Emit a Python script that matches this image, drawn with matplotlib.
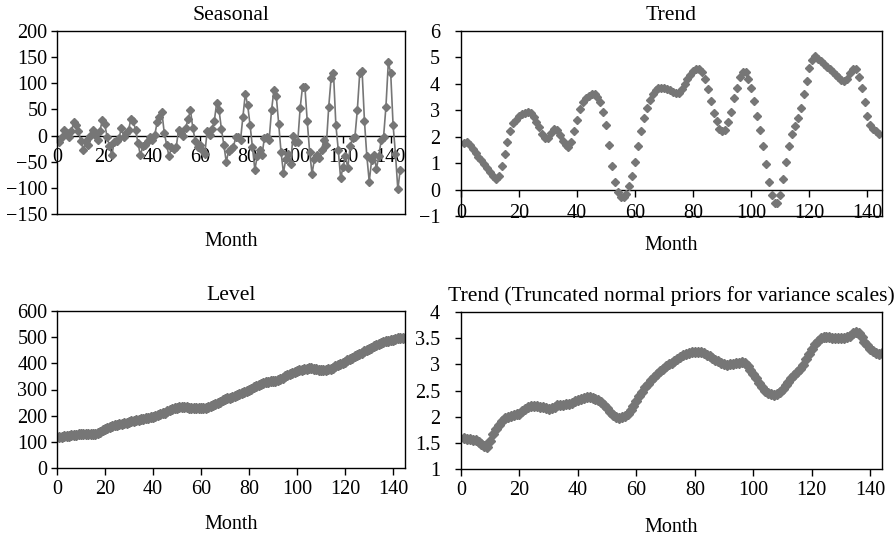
import numpy as np
import matplotlib
matplotlib.use("Agg")
import matplotlib.pyplot as plt
from matplotlib.ticker import FuncFormatter

plt.rcParams['font.family'] = ['Liberation Serif', 'DejaVu Serif']
plt.rcParams['font.size'] = 13
plt.rcParams['xtick.labelsize'] = 14.5
plt.rcParams['ytick.labelsize'] = 14.5
plt.rcParams['axes.labelsize'] = 14.5

months = np.arange(1, 145)

seasonal = [
    -12, -3, 10, 4, -3, 8, 26, 20, 8, -10, -27, -10,
    -18, 0, 11, 1, -8, 8, 30, 22, -2, -20, -38, -12,
    -10, -5, 14, -2, 4, 10, 32, 27, 10, -15, -38, -20,
    -18, -10, -2, -8, 1, 25, 36, 45, 5, -18, -40, -22,
    -25, -22, 10, 4, 0, 15, 32, 48, 14, -10, -22, -18,
    -27, -35, 8, 2, 12, 28, 63, 48, 12, -18, -50, -30,
    -25, -22, -3, -3, -8, 36, 80, 58, 20, -22, -65, -40,
    -27, -37, -5, -3, -8, 48, 87, 75, 23, -32, -71, -45,
    -35, -55, -1, -12, -12, 52, 93, 93, 27, -32, -73, -45,
    -38, -43, -27, -8, -18, 55, 110, 120, 20, -27, -82, -60,
    -40, -62, -20, -5, -2, 49, 119, 124, 27, -40, -88, -47,
    -38, -63, -40, -9, -3, 55, 140, 120, 20, -35, -103, -65,
]

trend = [
    1.75, 1.8, 1.7, 1.55, 1.4, 1.25, 1.1, 0.95, 0.8, 0.65, 0.5, 0.4,
    0.5, 0.9, 1.35, 1.8, 2.2, 2.5, 2.65, 2.8, 2.85, 2.9, 2.95, 2.9,
    2.75, 2.55, 2.35, 2.1, 1.95, 1.95, 2.15, 2.3, 2.25, 2.05, 1.85, 1.7,
    1.6, 1.8, 2.2, 2.65, 3.05, 3.3, 3.45, 3.55, 3.62, 3.6, 3.5, 3.3,
    2.95, 2.45, 1.7, 0.9, 0.3, -0.1, -0.3, -0.3, -0.15, 0.15, 0.5, 1.05,
    1.65, 2.2, 2.7, 3.1, 3.4, 3.6, 3.75, 3.85, 3.85, 3.85, 3.8, 3.75,
    3.7, 3.65, 3.65, 3.8, 4.0, 4.2, 4.35, 4.5, 4.55, 4.55, 4.45, 4.2,
    3.8, 3.35, 2.9, 2.6, 2.3, 2.2, 2.25, 2.55, 2.95, 3.45, 3.85, 4.25,
    4.45, 4.45, 4.2, 3.85, 3.35, 2.8, 2.25, 1.65, 0.95, 0.3, -0.2, -0.5,
    -0.5, -0.2, 0.4, 1.05, 1.65, 2.1, 2.4, 2.7, 3.1, 3.6, 4.1, 4.6,
    4.9, 5.05, 4.95, 4.85, 4.75, 4.65, 4.55, 4.45, 4.35, 4.25, 4.15, 4.1,
    4.2, 4.4, 4.55, 4.55, 4.25, 3.85, 3.3, 2.8, 2.45, 2.3, 2.2, 2.1,
]

level = [
    118, 120, 122, 123, 124, 125, 126, 128, 129, 130, 131, 131,
    131, 130, 129, 130, 134, 139, 144, 149, 153, 157, 160, 163,
    165, 167, 169, 171, 173, 175, 178, 180, 182, 184, 186, 188,
    190, 192, 194, 196, 199, 203, 206, 209, 212, 216, 220, 224,
    228, 231, 233, 234, 233, 232, 231, 231, 231, 231, 230, 230,
    230, 230, 232, 236, 240, 244, 249, 254, 258, 262, 266, 269,
    272, 275, 279, 282, 286, 290, 294, 298, 303, 308, 312, 317,
    321, 324, 327, 329, 331, 332, 334, 336, 340, 345, 350, 354,
    358, 362, 366, 370, 374, 376, 378, 380, 382, 383, 380, 377,
    375, 374, 374, 375, 377, 380, 384, 388, 392, 397, 402, 407,
    412, 417, 422, 427, 431, 436, 441, 446, 450, 455, 460, 465,
    470, 475, 479, 483, 485, 487, 489, 491, 493, 495, 497, 498,
]

trend_tn = [
    1.59, 1.58, 1.57, 1.56, 1.55, 1.52, 1.48, 1.43, 1.42, 1.54, 1.66, 1.77,
    1.85, 1.92, 1.97, 2.0, 2.02, 2.04, 2.05, 2.06, 2.1, 2.15, 2.18, 2.21,
    2.21, 2.2, 2.19, 2.18, 2.16, 2.15, 2.16, 2.19, 2.22, 2.23, 2.23, 2.24,
    2.24, 2.26, 2.29, 2.31, 2.33, 2.36, 2.37, 2.37, 2.36, 2.34, 2.32, 2.28,
    2.23, 2.16, 2.08, 2.03, 1.99, 1.98, 2.0, 2.02, 2.06, 2.12, 2.2, 2.3,
    2.4, 2.48, 2.56, 2.63, 2.7, 2.76, 2.82, 2.87, 2.92, 2.96, 3.0, 3.03,
    3.07, 3.11, 3.14, 3.17, 3.19, 3.21, 3.23, 3.24, 3.24, 3.23, 3.21, 3.18,
    3.15, 3.12, 3.09, 3.06, 3.02, 3.0, 2.99, 3.0, 3.01, 3.02, 3.03, 3.04,
    3.02, 2.96, 2.9, 2.82, 2.73, 2.64, 2.56, 2.5, 2.46, 2.43, 2.42, 2.43,
    2.47, 2.53, 2.6, 2.67, 2.74, 2.8, 2.86, 2.92, 2.99, 3.1, 3.2, 3.3,
    3.38, 3.45, 3.5, 3.52, 3.52, 3.52, 3.51, 3.51, 3.5, 3.5, 3.5, 3.52,
    3.55, 3.59, 3.62, 3.6, 3.52, 3.43, 3.36, 3.3, 3.25, 3.21, 3.2, 3.22,
]

GREY = '#767676'
W, H = 894, 538


def box(l, t, r, b):
    return [l / W, (H - b) / H, (r - l) / W, (b - t) / H]


def style(ax, xmax):
    for s in ax.spines.values():
        s.set_linewidth(1.0)
    ax.set_xlim(0, xmax)
    ax.set_xticks(range(0, 141, 20))
    ax.tick_params(axis='y', direction='out', length=4, width=1, pad=3)
    ax.tick_params(axis='x', direction='out', length=5, width=1)


fig = plt.figure(figsize=(W / 100, H / 100), dpi=100)

# seasonal component, x axis drawn across y = 0
ax1 = fig.add_axes(box(57, 31, 405, 214))
ax1.plot(months, seasonal, color=GREY, lw=1.2, marker='D', ms=4, mec=GREY, mfc=GREY)
style(ax1, 146)
ax1.set_ylim(-150, 200)
ax1.set_yticks(range(-150, 201, 50))
ax1.tick_params(axis='x', length=0, labelbottom=False)
sec1 = ax1.secondary_xaxis(150 / 350)
sec1.set_xticks(range(0, 141, 20))
sec1.tick_params(direction='out', length=5, width=1, pad=4)
sec1.spines['bottom'].set_linewidth(1.0)
ax1.set_title('Seasonal', pad=8)
ax1.set_xlabel('Month', labelpad=13)

# trend, labels at the bottom, axis line at 0
ax2 = fig.add_axes(box(461, 31, 882, 216))
ax2.plot(months, trend, ls='none', marker='D', ms=4.5, mec=GREY, mfc=GREY)
style(ax2, 145)
ax2.set_ylim(-1, 6)
ax2.set_yticks(range(-1, 7))
ax2.tick_params(axis='y', pad=11)
ax2.tick_params(axis='x', length=0, pad=-9)
sec2 = ax2.secondary_xaxis(1 / 7)
sec2.set_xticks(range(0, 141, 20))
sec2.tick_params(direction='out', length=5, width=1, labelbottom=False)
sec2.spines['bottom'].set_linewidth(1.0)
ax2.set_title('Trend', pad=8)
ax2.set_xlabel('Month', labelpad=10)

# level
ax3 = fig.add_axes(box(57, 311, 405, 468))
ax3.plot(months, level, color=GREY, lw=2.5, marker='D', ms=5.5, mec=GREY, mfc=GREY)
style(ax3, 145)
ax3.set_ylim(0, 600)
ax3.set_yticks(range(0, 601, 100))
ax3.set_title('Level', pad=8)
ax3.set_xlabel('Month', labelpad=12)

# trend with truncated normal priors
ax4 = fig.add_axes(box(461, 312, 882, 469))
ax4.plot(months, trend_tn, color=GREY, lw=2.5, marker='D', ms=5.5, mec=GREY, mfc=GREY)
style(ax4, 144)
ax4.set_ylim(1, 4)
ax4.set_yticks(np.arange(1, 4.01, 0.5))
ax4.yaxis.set_major_formatter(FuncFormatter(lambda v, p: '%g' % v))
ax4.tick_params(axis='y', pad=11)
ax4.set_title('Trend (Truncated normal priors for variance scales)', pad=8)
ax4.set_xlabel('Month', labelpad=13)

fig.savefig('out.png', dpi=100)
